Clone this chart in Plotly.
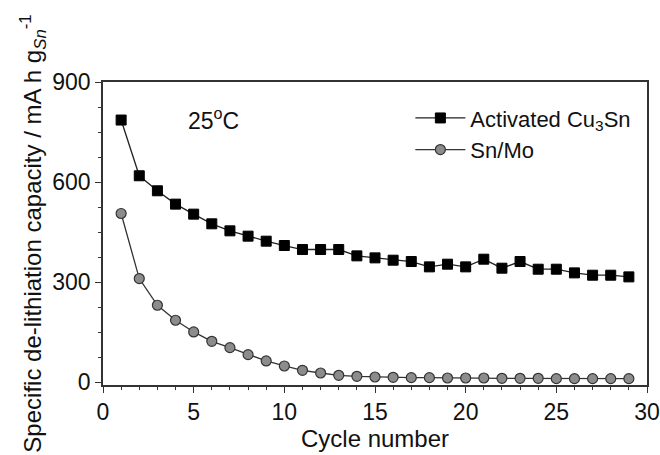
import plotly.graph_objects as go

cycles = list(range(1, 30))
cu3sn = [786, 619, 574, 534, 504, 475, 454, 438, 423, 410, 398, 398, 398, 379, 373,
         366, 362, 346, 354, 346, 369, 342, 362, 339, 339, 328, 321, 321, 316]
snmo = [506, 311, 231, 186, 151, 123, 104, 83, 64, 49, 36, 28, 21, 18, 16,
        15, 14, 14, 13, 13, 13, 12, 12, 12, 11, 11, 11, 11, 11]

FONT = "Liberation Sans, Arial, sans-serif"

fig = go.Figure()
fig.add_trace(go.Scatter(
    x=cycles, y=cu3sn, mode="lines+markers", name="Activated Cu<sub>3</sub>Sn",
    line=dict(color="#222222", width=1.3),
    marker=dict(symbol="square", size=10, color="#000000", line=dict(color="#000000", width=1)),
))
fig.add_trace(go.Scatter(
    x=cycles, y=snmo, mode="lines+markers", name="Sn/Mo",
    line=dict(color="#333333", width=1.3),
    marker=dict(symbol="circle", size=10, color="#8c8c8c", line=dict(color="#333333", width=1.2)),
))

axis_common = dict(
    showline=True, linecolor="#333333", linewidth=1.5, mirror=True,
    ticks="outside", ticklen=6, tickwidth=1.3, tickcolor="#333333",
    showgrid=False, zeroline=False, automargin=False,
    tickfont=dict(family=FONT, size=23, color="#111111"),
)

fig.update_xaxes(
    range=[0, 30], tickvals=[0, 5, 10, 15, 20, 25, 30],
    minor=dict(dtick=1, ticks="outside", ticklen=3, tickcolor="#333333", tickwidth=1),
    title=dict(text="Cycle number", font=dict(family=FONT, size=24, color="#111111"), standoff=4),
    **axis_common,
)
fig.update_yaxes(
    range=[-8, 900], tickvals=[0, 300, 600, 900],
    minor=dict(tickvals=[75, 150, 225, 375, 450, 525, 675, 750, 825], ticks="outside", ticklen=3,
               tickcolor="#333333", tickwidth=1),
    title=dict(text="Specific de-lithiation capacity / mA h g<sub><i>Sn</i></sub><sup>-1</sup>",
               font=dict(family=FONT, size=24, color="#111111"), standoff=4),
    **axis_common,
)

fig.add_annotation(
    x=6.1, y=790, xref="x", yref="y", text="25<sup>o</sup>C", showarrow=False,
    font=dict(family=FONT, size=23, color="#111111"),
)

fig.update_layout(
    width=660, height=455,
    margin=dict(l=103, r=13, t=82, b=70),
    paper_bgcolor="white", plot_bgcolor="white",
    showlegend=True,
    legend=dict(x=0.565, y=0.95, xanchor="left", yanchor="top",
                bgcolor="rgba(0,0,0,0)", font=dict(family=FONT, size=22, color="#111111"),
                tracegroupgap=0, itemwidth=50),
)

fig.write_html("out.html")
